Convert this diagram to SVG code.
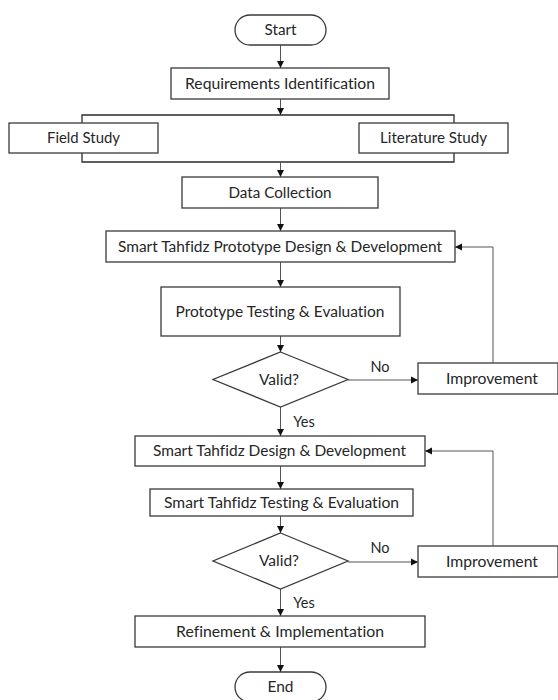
<svg xmlns="http://www.w3.org/2000/svg" width="558" height="700" viewBox="0 0 558 700">
<style>
  .box { fill: #ffffff; stroke: #3a3a3a; stroke-width: 1.3; }
  .lbl { font-family: Lato, "Open Sans", "Liberation Sans", sans-serif; font-size: 14.5px; fill: #262626; text-anchor: middle; font-variant-ligatures: none; font-feature-settings: "liga" 0; }
  .yn { font-family: Lato, "Open Sans", "Liberation Sans", sans-serif; font-size: 14.5px; fill: #262626; text-anchor: middle; font-variant-ligatures: none; }
  .conn { fill: none; stroke: #555555; stroke-width: 1; }
</style>
<defs>
  <marker id="arr" markerWidth="8" markerHeight="8" refX="7" refY="4" orient="auto" markerUnits="userSpaceOnUse">
    <path d="M0,0.5 L7,4 L0,7.5 Z" fill="#111111"/>
  </marker>
</defs>
<rect width="558" height="700" fill="#ffffff"/>

<g id="connectors">
  <line class="conn" x1="280.5" y1="45" x2="280.5" y2="68" marker-end="url(#arr)"/>
  <line class="conn" x1="280.5" y1="99" x2="280.5" y2="115" marker-end="url(#arr)"/>
  <polyline class="conn" style="stroke:#2a2a2a;stroke-width:1.3" points="82,123 82,115 454,115 454,123"/>
  <polyline class="conn" style="stroke:#2a2a2a;stroke-width:1.3" points="82,153 82,162 454,162 454,153"/>
  <line class="conn" x1="280.5" y1="162" x2="280.5" y2="177" marker-end="url(#arr)"/>
  <line class="conn" x1="280.5" y1="208" x2="280.5" y2="231" marker-end="url(#arr)"/>
  <line class="conn" x1="280.5" y1="262" x2="280.5" y2="287" marker-end="url(#arr)"/>
  <line class="conn" x1="280.5" y1="336" x2="280.5" y2="352" marker-end="url(#arr)"/>
  <line class="conn" x1="348" y1="380" x2="418" y2="380" marker-end="url(#arr)"/>
  <polyline class="conn" points="493,363 493,247 455,247" marker-end="url(#arr)"/>
  <line class="conn" x1="280.5" y1="407" x2="280.5" y2="436" marker-end="url(#arr)"/>
  <line class="conn" x1="280.5" y1="466" x2="280.5" y2="489" marker-end="url(#arr)"/>
  <line class="conn" x1="280.5" y1="516" x2="280.5" y2="533" marker-end="url(#arr)"/>
  <line class="conn" x1="348" y1="562" x2="418" y2="562" marker-end="url(#arr)"/>
  <polyline class="conn" points="493,546 493,451 425,451" marker-end="url(#arr)"/>
  <line class="conn" x1="280.5" y1="589" x2="280.5" y2="616" marker-end="url(#arr)"/>
  <line class="conn" x1="280.5" y1="647" x2="280.5" y2="672" marker-end="url(#arr)"/>
  <text class="yn" x="380" y="372">No</text>
  <text class="yn" x="304" y="427">Yes</text>
  <text class="yn" x="380" y="553">No</text>
  <text class="yn" x="304" y="608">Yes</text>
</g>

<g id="start">
  <rect class="box" x="235" y="15" width="91" height="30" rx="15"/>
  <text class="lbl" x="280.5" y="35" textLength="32" lengthAdjust="spacingAndGlyphs">Start</text>
</g>
<g id="requirements">
  <rect class="box" x="171" y="68" width="218" height="31"/>
  <text class="lbl" x="280" y="89" textLength="190" lengthAdjust="spacingAndGlyphs">Requirements Identification</text>
</g>
<g id="field-study">
  <rect class="box" x="9" y="123" width="149" height="30"/>
  <text class="lbl" x="83.5" y="143" textLength="73" lengthAdjust="spacingAndGlyphs">Field Study</text>
</g>
<g id="literature-study">
  <rect class="box" x="359" y="123" width="149" height="30"/>
  <text class="lbl" x="433.5" y="143" textLength="107" lengthAdjust="spacingAndGlyphs">Literature Study</text>
</g>
<g id="data-collection">
  <rect class="box" x="182" y="177" width="196" height="31"/>
  <text class="lbl" x="280" y="197.5" textLength="103" lengthAdjust="spacingAndGlyphs">Data Collection</text>
</g>
<g id="prototype-design">
  <rect class="box" x="106" y="231" width="349" height="31"/>
  <text class="lbl" x="280" y="251.5" textLength="324" lengthAdjust="spacingAndGlyphs">Smart Tahfidz Prototype Design &amp; Development</text>
</g>
<g id="prototype-testing">
  <rect class="box" x="161" y="287" width="239" height="49"/>
  <text class="lbl" x="280" y="316.5" textLength="209" lengthAdjust="spacingAndGlyphs">Prototype Testing &amp; Evaluation</text>
</g>
<g id="valid-1">
  <polygon class="box" points="280.5,352 348,379.5 280.5,407 213,379.5"/>
  <text class="lbl" x="279" y="384.5" textLength="40" lengthAdjust="spacingAndGlyphs">Valid?</text>
</g>
<g id="improvement-1">
  <rect class="box" x="418" y="363" width="140" height="31"/>
  <text class="lbl" x="492" y="384" textLength="92" lengthAdjust="spacingAndGlyphs">Improvement</text>
</g>
<g id="design">
  <rect class="box" x="135" y="436" width="290" height="30"/>
  <text class="lbl" x="279.5" y="456" textLength="253" lengthAdjust="spacingAndGlyphs">Smart Tahfidz Design &amp; Development</text>
</g>
<g id="testing">
  <rect class="box" x="150" y="489" width="263" height="27"/>
  <text class="lbl" x="281.5" y="507.5" textLength="235" lengthAdjust="spacingAndGlyphs">Smart Tahfidz Testing &amp; Evaluation</text>
</g>
<g id="valid-2">
  <polygon class="box" points="280.5,533 348,561 280.5,589 213,561"/>
  <text class="lbl" x="279" y="566" textLength="40" lengthAdjust="spacingAndGlyphs">Valid?</text>
</g>
<g id="improvement-2">
  <rect class="box" x="418" y="546" width="140" height="31"/>
  <text class="lbl" x="492" y="566.5" textLength="92" lengthAdjust="spacingAndGlyphs">Improvement</text>
</g>
<g id="refinement">
  <rect class="box" x="135" y="616" width="290" height="31"/>
  <text class="lbl" x="280" y="636.5" textLength="208" lengthAdjust="spacingAndGlyphs">Refinement &amp; Implementation</text>
</g>
<g id="end">
  <rect class="box" x="235" y="672" width="91" height="30" rx="15"/>
  <text class="lbl" x="280.5" y="692" textLength="26" lengthAdjust="spacingAndGlyphs">End</text>
</g>
</svg>
